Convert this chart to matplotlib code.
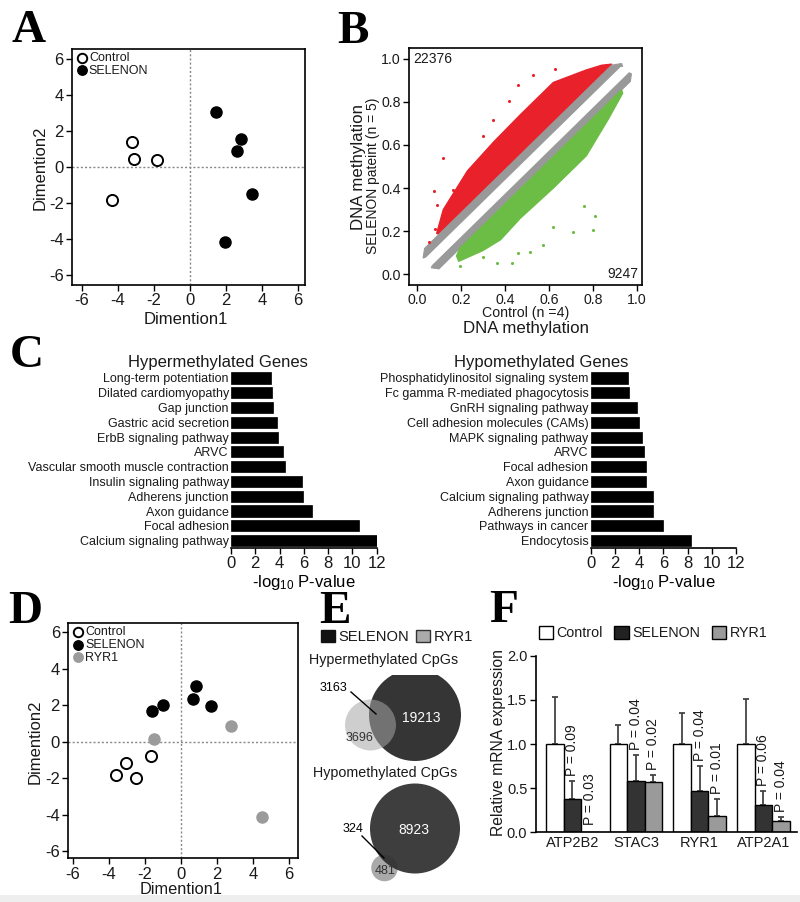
import numpy as np
import matplotlib
matplotlib.use('Agg')
import matplotlib.pyplot as plt
from matplotlib.patches import Circle, Polygon, Rectangle, Patch

plt.rcParams['font.family'] = ['Liberation Sans', 'DejaVu Sans']
plt.rcParams['mathtext.fontset'] = 'custom'
plt.rcParams['mathtext.rm'] = 'Liberation Sans'
plt.rcParams['mathtext.it'] = 'Liberation Sans:italic'
plt.rcParams['mathtext.bf'] = 'Liberation Sans:bold'
plt.rcParams['axes.linewidth'] = 1.2
plt.rcParams['axes.unicode_minus'] = False
plt.rcParams['text.color'] = '#1a1a1a'
plt.rcParams['xtick.labelcolor'] = '#1a1a1a'
plt.rcParams['ytick.labelcolor'] = '#1a1a1a'

# ---------------- data ----------------
# Panel A (MDS, SELENON vs control)
a_ctrl_x = [-3.24, -3.11, -1.81, -4.31]
a_ctrl_y = [1.41, 0.44, 0.41, -1.83]
a_sel_x = [1.43, 2.85, 2.61, 3.46, 1.96]
a_sel_y = [3.06, 1.57, 0.91, -1.50, -4.17]

# Panel B: outlines of the dense CpG clouds and isolated points
b_red_x = [0.09, 0.12, 0.23, 0.35, 0.47, 0.62, 0.77, 0.84, 0.885, 0.885, 0.10]
b_red_y = [0.19, 0.30, 0.48, 0.615, 0.74, 0.89, 0.948, 0.97, 0.975, 0.97, 0.185]
b_gup_x = [0.028, 0.035, 0.885, 0.93, 0.935, 0.925, 0.04]
b_gup_y = [0.075, 0.12, 0.97, 0.978, 0.965, 0.965, 0.08]
b_glo_x = [0.065, 0.07, 0.965, 0.975, 0.97, 0.10]
b_glo_y = [0.03, 0.04, 0.935, 0.93, 0.895, 0.025]
b_green_x = [0.18, 0.195, 0.93, 0.935, 0.87, 0.77, 0.62, 0.47, 0.38, 0.30, 0.19]
b_green_y = [0.085, 0.12, 0.855, 0.84, 0.72, 0.55, 0.40, 0.26, 0.16, 0.11, 0.06]
b_red_out_x = [0.12, 0.076, 0.053, 0.46, 0.42, 0.347, 0.302, 0.166, 0.09, 0.082, 0.526, 0.627]
b_red_out_y = [0.538, 0.387, 0.15, 0.876, 0.805, 0.716, 0.64, 0.39, 0.32, 0.21, 0.925, 0.953]
b_green_out_x = [0.80, 0.71, 0.76, 0.81, 0.574, 0.62, 0.513, 0.195, 0.363, 0.43, 0.46, 0.302]
b_green_out_y = [0.205, 0.198, 0.316, 0.27, 0.135, 0.22, 0.105, 0.04, 0.05, 0.05, 0.10, 0.08]
b_n_hyper = 22376
b_n_hypo = 9247
b_ticks = [0.0, 0.2, 0.4, 0.6, 0.8, 1.0]

# Panel C (KEGG pathways)
c_hyper_terms = ['Long-term potentiation', 'Dilated cardiomyopathy', 'Gap junction',
                 'Gastric acid secretion', 'ErbB signaling pathway', 'ARVC',
                 'Vascular smooth muscle contraction', 'Insulin signaling pathway',
                 'Adherens junction', 'Axon guidance', 'Focal adhesion',
                 'Calcium signaling pathway']
c_hyper_vals = [3.27, 3.35, 3.49, 3.82, 3.90, 4.26, 4.45, 5.88, 5.90, 6.65, 10.58, 12.0]
c_hypo_terms = ['Phosphatidylinositol signaling system', 'Fc gamma R-mediated phagocytosis',
                'GnRH signaling pathway', 'Cell adhesion molecules (CAMs)',
                'MAPK signaling pathway', 'ARVC', 'Focal adhesion', 'Axon guidance',
                'Calcium signaling pathway', 'Adherens junction', 'Pathways in cancer',
                'Endocytosis']
c_hypo_vals = [3.08, 3.14, 3.83, 3.96, 4.27, 4.38, 4.60, 4.60, 5.17, 5.17, 6.00, 8.26]
c_ticks = [0, 2, 4, 6, 8, 10, 12]

# Panel D (MDS with RYR1)
d_ctrl_x = [-3.60, -3.07, -2.49, -1.66]
d_ctrl_y = [-1.85, -1.19, -2.01, -0.79]
d_sel_x = [-1.60, -1.01, 0.65, 0.83, 1.64]
d_sel_y = [1.70, 2.02, 2.33, 3.08, 1.98]
d_ryr_x = [-1.48, 2.75, 4.47]
d_ryr_y = [0.13, 0.86, -4.12]
ad_ticks = [-6, -4, -2, 0, 2, 4, 6]

# Panel E (Venn counts)
e_hyper_sel_only = 19213
e_hyper_overlap = 3163
e_hyper_ryr_only = 3696
e_hypo_sel_only = 8923
e_hypo_overlap = 324
e_hypo_ryr_only = 481

# Panel F (qPCR)
f_genes = ['ATP2B2', 'STAC3', 'RYR1', 'ATP2A1']
f_groups = ['Control', 'SELENON', 'RYR1']
f_ctrl = [1.0, 1.0, 1.0, 1.0]
f_ctrl_err = [0.53, 0.22, 0.35, 0.51]
f_sel = [0.38, 0.58, 0.47, 0.31]
f_sel_err = [0.20, 0.29, 0.28, 0.16]
f_ryr = [0.0, 0.57, 0.185, 0.125]
f_ryr_err = [0.0, 0.08, 0.19, 0.045]
f_p_sel = ['P = 0.09', 'P = 0.04', 'P = 0.04', 'P = 0.06']
f_p_ryr = ['P = 0.03', 'P = 0.02', 'P = 0.01', 'P = 0.04']
f_ticks = [0.0, 0.5, 1.0, 1.5, 2.0]

# ---------------- figure ----------------
W, H = 800, 902
fig = plt.figure(figsize=(8, 9.02), dpi=100)
fig.patch.set_facecolor('white')


def ax_px(l, t, r, b):
    return fig.add_axes([l / W, 1 - b / H, (r - l) / W, (b - t) / H])


def ftext(x, y, s, **kw):
    return fig.text(x / W, 1 - y / H, s, **kw)


# bottom grey strip
fig.add_artist(Rectangle((0, 0), 1, 7 / H, transform=fig.transFigure,
                         facecolor='#eeeeee', edgecolor='none'))

# panel letters
for letter, x, y in [('A', 12, 42), ('B', 337, 43), ('C', 10, 367),
                     ('D', 8, 623), ('E', 319, 623), ('F', 489, 622)]:
    ftext(x, y, letter, fontsize=34, fontweight='bold', family='Liberation Serif',
          va='baseline', ha='left', color='black')


def mds_axes(ax, xlim, ylim):
    ax.axvline(0, color='#888888', ls=(0, (1.5, 1.5)), lw=1, zorder=0)
    ax.axhline(0, color='#888888', ls=(0, (1.5, 1.5)), lw=1, zorder=0)
    ax.set_xlim(*xlim)
    ax.set_ylim(*ylim)
    ax.set_xticks(ad_ticks)
    ax.set_yticks(ad_ticks)
    ax.tick_params(labelsize=12, length=4, width=1, pad=2)


# ---- Panel A ----
axA = ax_px(72, 49, 305, 285)
axA.scatter(a_ctrl_x, a_ctrl_y, s=64, facecolor='white', edgecolor='black', lw=1.4,
            zorder=3, label='Control')
axA.scatter(a_sel_x, a_sel_y, s=64, facecolor='black', edgecolor='black', lw=1,
            zorder=3, label='SELENON')
mds_axes(axA, (-6.56, 6.39), (-6.56, 6.56))
axA.legend(loc='upper left', bbox_to_anchor=(0.0, 1.0), frameon=False, fontsize=9,
           handletextpad=0.0, borderpad=0.25, labelspacing=0.05, handlelength=1.1,
           borderaxespad=0, markerscale=0.85, scatterpoints=1)
ftext(186, 319, 'Dimention1', fontsize=12, ha='center', va='center')
ftext(40, 168, 'Dimention2', fontsize=12, ha='center', va='center', rotation=90)

# ---- Panel B ----
axB = ax_px(409, 48, 642, 285)
axB.add_patch(Polygon(np.column_stack([b_red_x, b_red_y]), closed=True,
                      facecolor='#e8212b', edgecolor='#e8212b', lw=1.0))
axB.add_patch(Polygon(np.column_stack([b_gup_x, b_gup_y]), closed=True,
                      facecolor='#999999', edgecolor='#999999', lw=0.8))
axB.add_patch(Polygon(np.column_stack([b_glo_x, b_glo_y]), closed=True,
                      facecolor='#999999', edgecolor='#999999', lw=0.8))
axB.add_patch(Polygon(np.column_stack([b_green_x, b_green_y]), closed=True,
                      facecolor='#6cbd45', edgecolor='#6cbd45', lw=1.0))
axB.scatter(b_red_out_x, b_red_out_y, s=5, color='#e8212b', lw=0)
axB.scatter(b_green_out_x, b_green_out_y, s=5, color='#6cbd45', lw=0)
axB.set_xlim(-0.036, 1.023)
axB.set_ylim(-0.05, 1.05)
axB.set_xticks(b_ticks)
axB.set_yticks(b_ticks)
axB.set_xticklabels(['%.1f' % t for t in b_ticks])
axB.set_yticklabels(['%.1f' % t for t in b_ticks])
axB.tick_params(labelsize=10.2, length=4, width=1, pad=2)
axB.text(0.02, 0.955, str(b_n_hyper), transform=axB.transAxes, fontsize=10,
         ha='left', va='center')
axB.text(0.985, 0.045, str(b_n_hypo), transform=axB.transAxes, fontsize=10,
         ha='right', va='center')
ftext(358, 167, 'DNA methylation', fontsize=12.2, rotation=90, ha='center', va='center')
ftext(373, 176, 'SELENON pateint (n = 5)', fontsize=10, rotation=90, ha='center', va='center')
ftext(526, 313, 'Control (n =4)', fontsize=10.2, ha='center', va='center')
ftext(526, 328, 'DNA methylation', fontsize=12.2, ha='center', va='center')


# ---- Panel C ----
def pathway_axes(ax, terms, vals):
    n = len(terms)
    ypos = np.arange(n)[::-1]
    ax.barh(ypos, vals, height=0.75, color='black', edgecolor='black', lw=0.5)
    ax.set_xlim(0, 12)
    ax.set_ylim(-0.5, n - 0.5)
    ax.set_yticks(ypos)
    ax.set_yticklabels(terms, fontsize=9)
    ax.set_xticks(c_ticks)
    ax.tick_params(axis='y', length=0, pad=1.5)
    ax.tick_params(axis='x', labelsize=12, length=4, width=1, pad=2)
    for s in ['top', 'right', 'left']:
        ax.spines[s].set_visible(False)
    ax.set_xlabel(r'-log$_{10}$ P-value', fontsize=12, labelpad=1)


axC1 = ax_px(231, 370.6, 376.7, 548)
pathway_axes(axC1, c_hyper_terms, c_hyper_vals)
ftext(218, 362, 'Hypermethylated Genes', fontsize=12, ha='center', va='center')
axC2 = ax_px(590.7, 370.6, 736, 548)
pathway_axes(axC2, c_hypo_terms, c_hypo_vals)
ftext(541, 362, 'Hypomethylated Genes', fontsize=12, ha='center', va='center')

# ---- Panel D ----
axD = ax_px(68.3, 623.3, 297.7, 858.3)
axD.scatter(d_ctrl_x, d_ctrl_y, s=64, facecolor='white', edgecolor='black', lw=1.4,
            zorder=3, label='Control')
axD.scatter(d_sel_x, d_sel_y, s=64, facecolor='black', edgecolor='black', lw=1,
            zorder=3, label='SELENON')
axD.scatter(d_ryr_x, d_ryr_y, s=64, facecolor='#9b9b9b', edgecolor='#9b9b9b', lw=1,
            zorder=3, label='RYR1')
mds_axes(axD, (-6.24, 6.47), (-6.4, 6.5))
axD.legend(loc='upper left', bbox_to_anchor=(0.0, 1.0), frameon=False, fontsize=9,
           handletextpad=0.0, borderpad=0.25, labelspacing=0.05, handlelength=1.1,
           borderaxespad=0, markerscale=0.85, scatterpoints=1)
ftext(181, 889, 'Dimention1', fontsize=11.8, ha='center', va='center')
ftext(35, 742, 'Dimention2', fontsize=12, ha='center', va='center', rotation=90)

# ---- Panel E ----
axE = ax_px(300, 675, 490, 895)
axE.set_xlim(300, 490)
axE.set_ylim(895, 675)
axE.axis('off')
R = 46
hyper_big = e_hyper_sel_only + e_hyper_overlap
hyper_small = e_hyper_ryr_only + e_hyper_overlap
axE.add_patch(Circle((415, 715), R, facecolor='#353535', edgecolor='none'))
axE.add_patch(Circle((370.5, 725), R * np.sqrt(hyper_small / hyper_big),
                     facecolor='#a6a6a6', edgecolor='none', alpha=0.55))
axE.text(421, 718, str(e_hyper_sel_only), color='white', fontsize=10, ha='center', va='center')
axE.text(360, 738, str(e_hyper_ryr_only), color='#333333', fontsize=9, ha='center', va='center')
axE.text(333, 688, str(e_hyper_overlap), color='black', fontsize=9, ha='center', va='center')
axE.plot([351, 376], [692, 714], color='black', lw=1)

R2 = 45
hypo_big = e_hypo_sel_only + e_hypo_overlap
hypo_small = e_hypo_ryr_only + e_hypo_overlap
axE.add_patch(Circle((384.5, 868), R2 * np.sqrt(hypo_small / hypo_big),
                     facecolor='#a9a9a9', edgecolor='none'))
axE.add_patch(Circle((415, 828.5), R2, facecolor='#2f2f2f', edgecolor='none', alpha=0.93))
axE.text(414, 830, str(e_hypo_sel_only), color='white', fontsize=10, ha='center', va='center')
axE.text(385, 871, str(e_hypo_ryr_only), color='#333333', fontsize=9, ha='center', va='center')
axE.text(353, 829, str(e_hypo_overlap), color='black', fontsize=9, ha='center', va='center')
axE.plot([362, 384], [836, 858], color='black', lw=1)

ftext(384, 660, 'Hypermethylated CpGs', fontsize=10.3, ha='center', va='center')
ftext(385, 773, 'Hypomethylated CpGs', fontsize=10.3, ha='center', va='center')
fig.legend(handles=[Patch(facecolor='#111111', edgecolor='#111111'),
                    Patch(facecolor='#aaaaaa', edgecolor='#333333')],
           labels=['SELENON', 'RYR1'], loc='center',
           bbox_to_anchor=(397 / W, 1 - 637 / H), ncol=2, frameon=False, fontsize=10.6,
           handlelength=0.95, handleheight=0.95, handletextpad=0.2, columnspacing=0.5,
           borderpad=0)

# ---- Panel F ----
axF = ax_px(535.7, 655.7, 796.7, 832.3)
x = np.arange(len(f_genes))
w = 0.275
series = [(f_ctrl, f_ctrl_err, 'white'), (f_sel, f_sel_err, '#333333'),
          (f_ryr, f_ryr_err, '#9a9a9a')]
for k, (vals, errs, col) in enumerate(series):
    xs = x + (k - 1) * w
    axF.bar(xs, vals, width=w, color=col, edgecolor='black', lw=1, zorder=2)
    vals_a = np.array(vals)
    errs_a = np.array(errs)
    m = errs_a > 0
    axF.errorbar(xs[m], vals_a[m], yerr=[np.zeros(m.sum()), errs_a[m]], fmt='none',
                 ecolor='#444444', elinewidth=1.3, capsize=2.5, capthick=1.3, zorder=1)
for k, labels, vals, errs in [(1, f_p_sel, f_sel, f_sel_err), (2, f_p_ryr, f_ryr, f_ryr_err)]:
    for i, lab in enumerate(labels):
        top = max(vals[i] + errs[i], 0.02)
        axF.text(x[i] + (k - 1) * w, top + 0.06, lab, rotation=90, fontsize=10,
                 ha='center', va='bottom')
axF.set_xlim(-0.574, 3.524)
axF.set_ylim(0, 2.0)
axF.set_yticks(f_ticks)
axF.set_yticklabels(['%.1f' % t for t in f_ticks])
axF.set_xticks(x)
axF.set_xticklabels(f_genes)
axF.tick_params(axis='y', labelsize=10.5, length=4, width=1, pad=2)
axF.tick_params(axis='x', labelsize=10.5, length=0, pad=3)
for s in ['top', 'right']:
    axF.spines[s].set_visible(False)
ftext(499, 743, 'Relative mRNA expression', fontsize=11.3, rotation=90, ha='center', va='center')
fig.legend(handles=[Patch(facecolor='white', edgecolor='black'),
                    Patch(facecolor='#222222', edgecolor='black'),
                    Patch(facecolor='#9a9a9a', edgecolor='black')],
           labels=f_groups, loc='center', bbox_to_anchor=(653 / W, 1 - 633 / H), ncol=3,
           frameon=False, fontsize=10.3, handlelength=1.0, handleheight=1.0,
           handletextpad=0.25, columnspacing=0.8, borderpad=0)

fig.savefig('out.png', dpi=100, facecolor='white')
